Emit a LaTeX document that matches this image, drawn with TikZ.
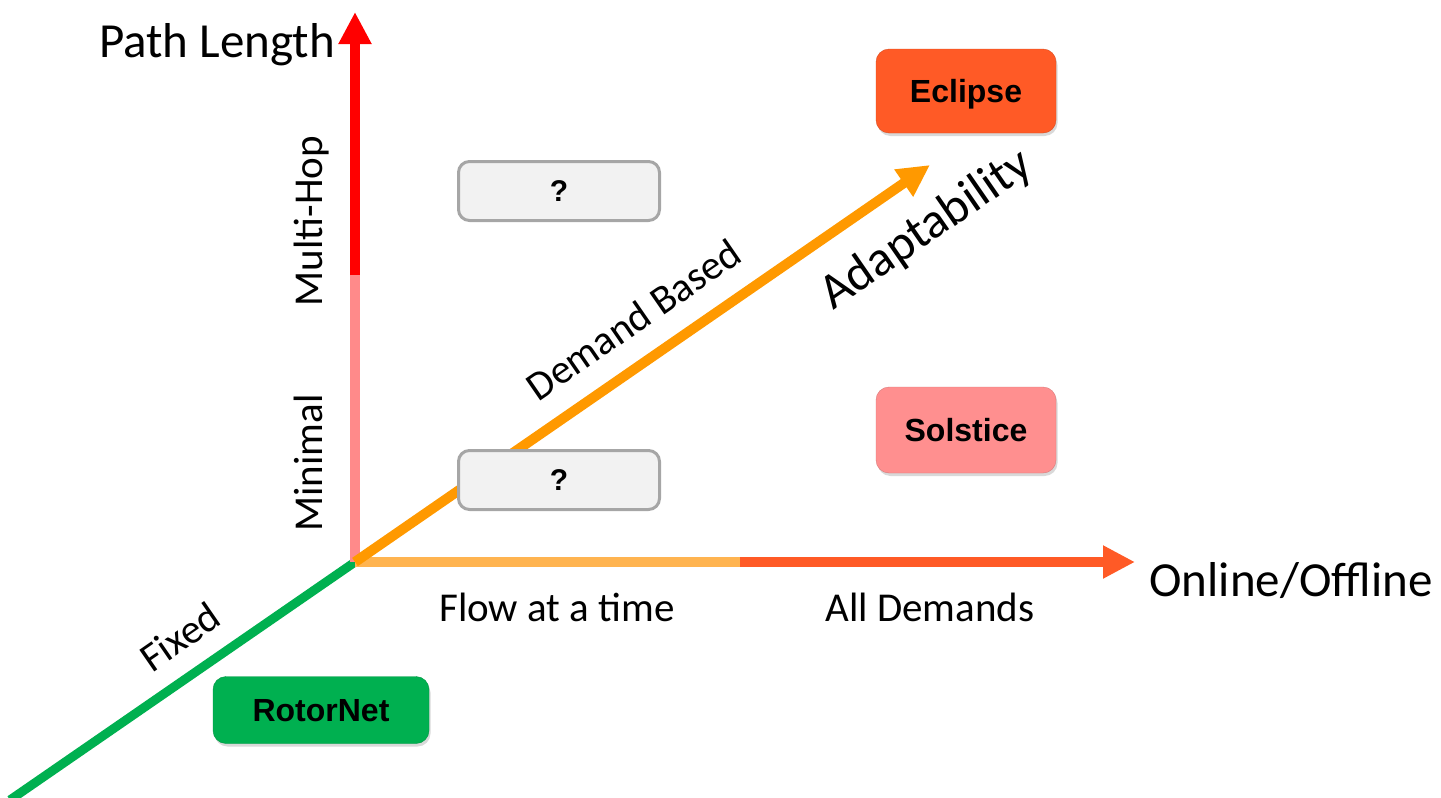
\documentclass[tikz,border=0pt]{standalone}
\usepackage{fontspec}
\setmainfont{Carlito}
\newfontfamily\boxfont{Liberation Sans}
\usetikzlibrary{arrows.meta, shadows}

\definecolor{minpink}{HTML}{FF8A8A}
\definecolor{hopred}{HTML}{FF0000}
\definecolor{flowor}{HTML}{FFB450}
\definecolor{allor}{HTML}{FF5A26}
\definecolor{adaptor}{HTML}{FF9900}
\definecolor{fixgreen}{HTML}{00B050}
\definecolor{solpink}{HTML}{FF8F8F}
\definecolor{qgrey}{HTML}{F2F2F2}
\definecolor{qborder}{HTML}{A6A6A6}

\begin{document}
\begin{tikzpicture}
	[%
	x=1pt, y=-1pt,%
	axis/.style      ={line width=10pt},%
	bigarrow/.style  ={-{Triangle[length=32pt, width=31pt]}},%
	axislabel/.style ={font=\fontsize{41}{49}\selectfont,	text=black,	inner sep=0pt},%
	axistitle/.style ={font=\fontsize{49}{59}\selectfont,	text=black,	inner sep=0pt},%
	system/.style    ={rounded corners=13pt,	minimum width=180pt,	minimum height=83pt,	text height=23pt,	text depth=0pt,	font=\boxfont\bfseries\fontsize{32}{38}\selectfont,	drop shadow={shadow xshift=1.5pt, shadow yshift=-3pt, opacity=.3}},%
	unknown/.style   ={rounded corners=11pt,	draw=qborder,	fill=qgrey,	line width=3pt,	minimum width=201pt,	minimum height=59pt,	text height=21pt,	text depth=0pt,	font=\boxfont\bfseries\fontsize{30}{36}\selectfont},%
	]
	\useasboundingbox (0,0) rectangle (1441,798);

	% axis points
	\coordinate (origin)  at (355,562);
	\coordinate (fixend)  at (10,800);
	\coordinate (hopmid)  at (355,275);
	\coordinate (hoptip)  at (355,12);
	\coordinate (flowmid) at (740,562);
	\coordinate (flowtip) at (1135,562);
	\coordinate (adatip)  at (930,165);

	% axes
	\draw [axis, line width=9pt, fixgreen] (fixend) -- (origin)
		node [axislabel, sloped, pos=0.555, above=19pt] (fixed) {Fixed};
	\draw [axis, flowor] (origin) -- (flowmid);
	\draw [axis, bigarrow, allor] (flowmid) -- (flowtip);
	\draw [axis, minpink] (origin) -- (hopmid);
	\draw [axis, bigarrow, hopred] (hopmid) -- (hoptip);
	\draw [axis, bigarrow, adaptor] (origin) -- (adatip)
		node [axislabel, sloped, pos=0.525, above=22pt] (demand) {Demand Based}
		node [axistitle, font=\fontsize{50}{60}\selectfont, sloped, pos=0.943, below=25pt] (adapt) {Adaptability};

	% axis texts
	\node [axistitle, anchor=base] (pathlen) at (217,57) {Path Length};
	\node [axistitle, anchor=base] (online) at (1291,596) {Online/Offline};
	\node [axislabel, anchor=base, rotate=90] (multihop) at (322,221) {Multi-Hop};
	\node [axislabel, anchor=base, rotate=90] (minimal) at (322,463) {Minimal};
	\node [axislabel, anchor=base] (flowtime) at (557,621) {Flow at a time};
	\node [axislabel, anchor=base] (alldem) at (930,621) {All Demands};

	% systems
	\node [system, fill=allor, draw=allor!85!black, minimum height=84pt] (eclipse) at (966,91) {Eclipse};
	\node [system, fill=solpink, draw=solpink!85!black, minimum height=86pt] (solstice) at (966,430) {Solstice};
	\node [system, fill=fixgreen, draw=fixgreen!85!black, minimum width=216pt, minimum height=67pt] (rotornet) at (321,710) {RotorNet};
	\foreach \i/\y in {top/191, bottom/480}
		\node [unknown] (unknown\i) at (559,\y) {?};

\end{tikzpicture}
\end{document}
